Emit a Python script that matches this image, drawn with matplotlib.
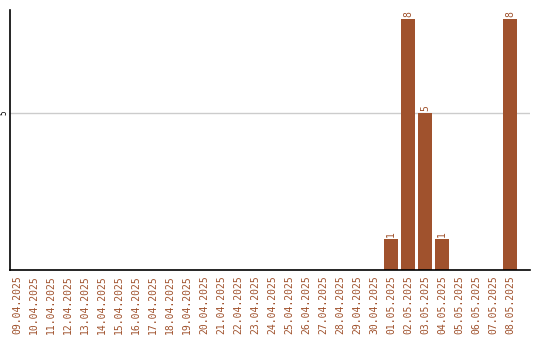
import matplotlib
matplotlib.use("Agg")
import matplotlib.pyplot as plt

dates = ["09.04.2025", "10.04.2025", "11.04.2025", "12.04.2025", "13.04.2025",
         "14.04.2025", "15.04.2025", "16.04.2025", "17.04.2025", "18.04.2025",
         "19.04.2025", "20.04.2025", "21.04.2025", "22.04.2025", "23.04.2025",
         "24.04.2025", "25.04.2025", "26.04.2025", "27.04.2025", "28.04.2025",
         "29.04.2025", "30.04.2025", "01.05.2025", "02.05.2025", "03.05.2025",
         "04.05.2025", "05.05.2025", "06.05.2025", "07.05.2025", "08.05.2025"]
counts = [0, 0, 0, 0, 0, 0, 0, 0, 0, 0,
          0, 0, 0, 0, 0, 0, 0, 0, 0, 0,
          0, 0, 1, 8, 5, 1, 0, 0, 0, 8]

brown = "#A0522D"

fig = plt.figure(figsize=(5.4, 3.4), dpi=100)
ax = fig.add_axes([10 / 540, 70 / 340, 520 / 540, 260 / 340])

x = range(len(dates))
bars = ax.bar(x, counts, width=0.82, color=brown, zorder=2)

# Werte über den Balken (nur > 0)
for xi, v in zip(x, counts):
    if v > 0:
        ax.text(xi, v + 0.06, str(v), rotation=90, ha="center", va="bottom",
                color=brown, fontsize=7, family="DejaVu Sans Mono")

ax.set_xlim(-0.41, 30.18)
ax.set_ylim(0, 8.28)
ax.set_xticks(list(x))
ax.set_xticklabels(dates, rotation=90, color=brown, fontsize=7, family="DejaVu Sans Mono")
ax.set_yticks([5])
ax.set_yticklabels(["5"], rotation=90, va="center", fontsize=5.5, family="DejaVu Sans Mono")
ax.tick_params(axis="x", length=0, pad=4)
ax.tick_params(axis="y", length=0, pad=1)
ax.grid(axis="y", color="#cccccc", linewidth=1, zorder=0)

for side in ["top", "right"]:
    ax.spines[side].set_visible(False)
ax.spines["left"].set_linewidth(1.2)
ax.spines["bottom"].set_linewidth(1.2)

fig.savefig("out.png", dpi=100)
